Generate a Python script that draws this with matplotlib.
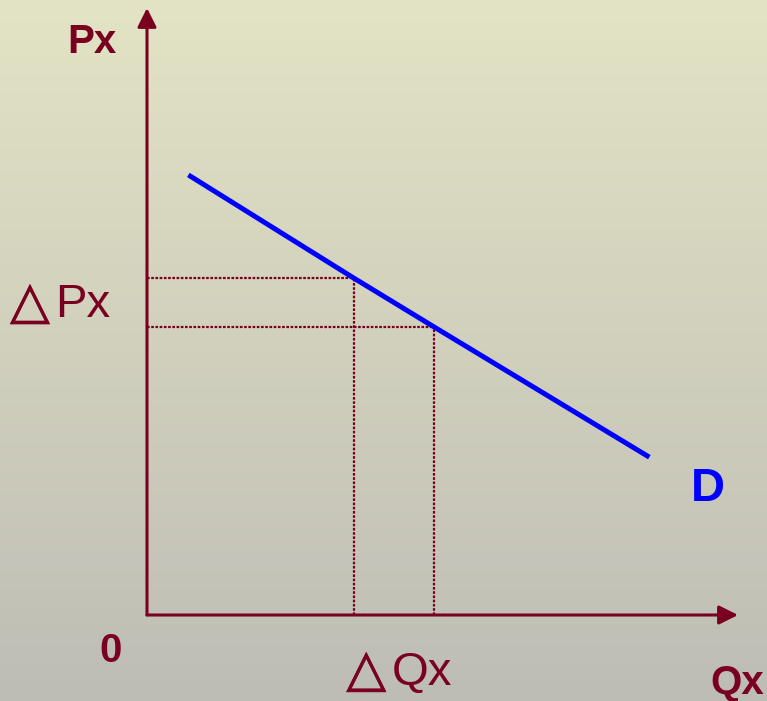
import numpy as np
import matplotlib
matplotlib.use('Agg')
import matplotlib.pyplot as plt
import matplotlib.patheffects as pe

plt.rcParams['font.family'] = ['Liberation Sans', 'DejaVu Sans']

# demand curve points (quantity, price)
demand_q = [0.7, 3.5, 4.85, 8.5]
demand_p = [7.25, 5.55, 4.75, 2.6]

# the two observed points on the curve
q_points = [3.5, 4.85]
p_points = [5.55, 4.75]

axis_color = '#7a0020'
line_color = '#0000ff'

fig = plt.figure(figsize=(7.67, 7.01), dpi=100)

# background gradient
bg = fig.add_axes([0, 0, 1, 1])
top = np.array([227, 227, 197]) / 255
bottom = np.array([190, 189, 181]) / 255
t = np.linspace(0, 1, 256)[:, None]
grad = top * (1 - t) + bottom * t
bg.imshow(grad[:, None, :], aspect='auto', extent=[0, 1, 0, 1])
bg.axis('off')

# main axes: origin at pixel (147, 615), tips at (738, 8)
W, H = 767, 701
ax = fig.add_axes([147 / W, (H - 615) / H, (738 - 147) / W, (615 - 8) / H])
ax.set_xlim(0, 10)
ax.set_ylim(0, 10)
ax.patch.set_alpha(0)
ax.axis('off')

arrow = dict(arrowstyle='-|>,head_length=1.0,head_width=0.5', mutation_scale=11.5,
             lw=2.2, color=axis_color, shrinkA=0, shrinkB=0)
ax.annotate('', xy=(0, 10), xytext=(0, 0), arrowprops=arrow, annotation_clip=False)
ax.annotate('', xy=(10, 0), xytext=(0, 0), arrowprops=arrow, annotation_clip=False)

# dotted guides
for q, p in zip(q_points, p_points):
    ax.plot([0, q], [p, p], color=axis_color, lw=1.6, linestyle=(0, (1.2, 0.7)), clip_on=False)
    ax.plot([q, q], [0, p], color=axis_color, lw=1.6, linestyle=(0, (1.2, 0.7)), clip_on=False)

ax.plot(demand_q, demand_p, color=line_color, lw=3.6, solid_capstyle='butt', zorder=3)

# labels
ax.text(-0.93, 9.44, 'Px', color=axis_color, fontsize=29, fontweight='bold',
        ha='center', va='center')
ax.text(9.98, -1.12, 'Qx', color=axis_color, fontsize=29, fontweight='bold',
        ha='center', va='center')
ax.text(-0.61, -0.59, '0', color=axis_color, fontsize=29, fontweight='bold',
        ha='center', va='center')
ax.text(9.49, 2.08, 'D', color=line_color, fontsize=34, fontweight='bold',
        ha='center', va='center')

# delta labels: round-cornered triangle followed by the regular letters
tri_fx = [pe.withStroke(linewidth=0.6, foreground=axis_color, joinstyle='round')]
ax.text(-1.98, 5.13, '△', color=axis_color, fontsize=37, fontweight='bold',
        ha='center', va='center', family=['DejaVu Sans'], path_effects=tri_fx)
ax.text(-1.55, 5.11, 'Px', color=axis_color, fontsize=34,
        ha='left', va='center')
ax.text(3.71, -0.93, '△', color=axis_color, fontsize=37, fontweight='bold',
        ha='center', va='center', family=['DejaVu Sans'], path_effects=tri_fx)
ax.text(4.14, -0.96, 'Qx', color=axis_color, fontsize=34,
        ha='left', va='center')

fig.savefig('out.png', dpi=100)
